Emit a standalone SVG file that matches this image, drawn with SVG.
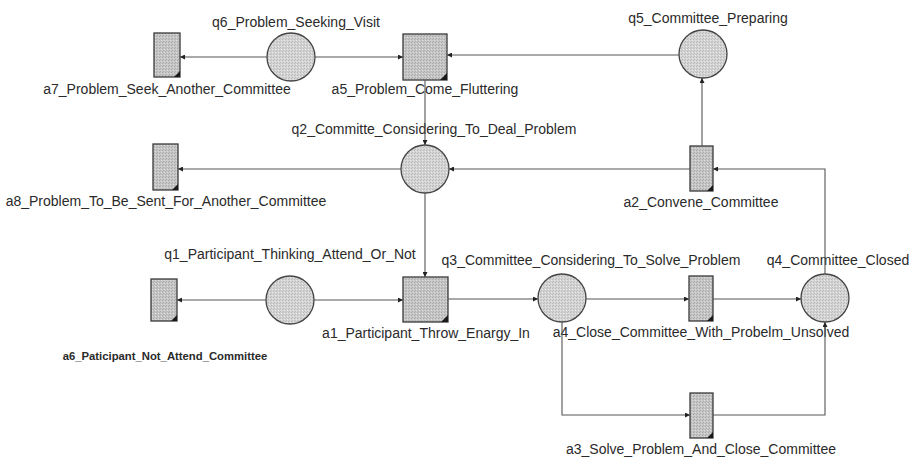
<svg xmlns="http://www.w3.org/2000/svg" width="914" height="457" viewBox="0 0 914 457">
  <defs>
    <!-- fine stipple fill used by places and transitions -->
    <pattern id="dotsLight" width="3" height="3" patternUnits="userSpaceOnUse">
      <rect width="3" height="3" fill="#d4d4d4"/>
      <rect x="0" y="0" width="1" height="1" fill="#b8b8b8"/>
      <rect x="2" y="1" width="1" height="1" fill="#e6e6e6"/>
      <rect x="1" y="2" width="1" height="1" fill="#bcbcbc"/>
    </pattern>
    <pattern id="dotsDark" width="3" height="3" patternUnits="userSpaceOnUse">
      <rect width="3" height="3" fill="#c6c6c6"/>
      <rect x="0" y="0" width="1" height="1" fill="#a8a8a8"/>
      <rect x="2" y="1" width="1" height="1" fill="#dadada"/>
      <rect x="1" y="2" width="1" height="1" fill="#acacac"/>
    </pattern>
    <marker id="arrow" viewBox="0 0 6 6" refX="6" refY="3" markerWidth="5" markerHeight="5" orient="auto" markerUnits="userSpaceOnUse">
      <path d="M0,0 L6,3 L0,6 Z" fill="#222"/>
    </marker>
  </defs>
  <style>
    .place { fill: url(#dotsLight); stroke: #444; stroke-width: 1.3; }
    .trans { fill: url(#dotsDark); stroke: #3a3a3a; stroke-width: 1.3; }
    .corner { fill: #1a1a1a; }
    .lbl { font-family: "Liberation Sans", Arial, sans-serif; font-size: 14px; fill: #2a2a2a; text-anchor: middle; }
    .lbl-small { font-family: "Liberation Sans", Arial, sans-serif; font-size: 11.3px; font-weight: bold; fill: #2a2a2a; text-anchor: middle; }
    .arc { fill: none; stroke: #555; stroke-width: 1.1; marker-end: url(#arrow); }
  </style>

  <rect width="914" height="457" fill="#ffffff"/>

  <!-- places -->
  <g id="q6">
    <circle class="place" cx="291" cy="57" r="24"/>
    <text class="lbl" x="296" y="27">q6_Problem_Seeking_Visit</text>
  </g>
  <g id="q5">
    <circle class="place" cx="703" cy="54" r="24"/>
    <text class="lbl" x="708" y="23">q5_Committee_Preparing</text>
  </g>
  <g id="q2">
    <circle class="place" cx="425" cy="169" r="24"/>
    <text class="lbl" x="434" y="134">q2_Committe_Considering_To_Deal_Problem</text>
  </g>
  <g id="q1">
    <circle class="place" cx="290" cy="300" r="24"/>
    <text class="lbl" x="290" y="259">q1_Participant_Thinking_Attend_Or_Not</text>
  </g>
  <g id="q3">
    <circle class="place" cx="562" cy="298" r="24"/>
    <text class="lbl" x="591" y="265">q3_Committee_Considering_To_Solve_Problem</text>
  </g>
  <g id="q4">
    <circle class="place" cx="825" cy="298" r="24"/>
    <text class="lbl" x="838" y="265">q4_Committee_Closed</text>
  </g>

  <!-- transitions -->
  <g id="a7">
    <rect class="trans" x="154" y="33" width="26" height="44"/>
    <path class="corner" d="M180,71 L180,77 L174,77 Z"/>
    <text class="lbl" x="167" y="94">a7_Problem_Seek_Another_Committee</text>
  </g>
  <g id="a5">
    <rect class="trans" x="403" y="34" width="44" height="46"/>
    <path class="corner" d="M447,73 L447,80 L440,80 Z"/>
    <text class="lbl" x="425" y="94">a5_Problem_Come_Fluttering</text>
  </g>
  <g id="a8">
    <rect class="trans" x="153" y="144" width="25" height="46"/>
    <path class="corner" d="M178,184 L178,190 L172,190 Z"/>
    <text class="lbl" x="166" y="206">a8_Problem_To_Be_Sent_For_Another_Committee</text>
  </g>
  <g id="a2">
    <rect class="trans" x="690" y="146" width="23" height="45"/>
    <path class="corner" d="M713,185 L713,191 L707,191 Z"/>
    <text class="lbl" x="701" y="207">a2_Convene_Committee</text>
  </g>
  <g id="a6">
    <rect class="trans" x="151" y="279" width="26" height="42"/>
    <path class="corner" d="M177,315 L177,321 L171,321 Z"/>
    <text class="lbl-small" x="165" y="360">a6_Paticipant_Not_Attend_Committee</text>
  </g>
  <g id="a1">
    <rect class="trans" x="403" y="277" width="45" height="45"/>
    <path class="corner" d="M448,315 L448,322 L441,322 Z"/>
    <text class="lbl" x="426" y="338">a1_Participant_Throw_Enargy_In</text>
  </g>
  <g id="a4">
    <rect class="trans" x="689" y="276" width="24" height="45"/>
    <path class="corner" d="M713,315 L713,321 L707,321 Z"/>
    <text class="lbl" x="701" y="337">a4_Close_Committee_With_Probelm_Unsolved</text>
  </g>
  <g id="a3">
    <rect class="trans" x="690" y="393" width="23" height="45"/>
    <path class="corner" d="M713,432 L713,438 L707,438 Z"/>
    <text class="lbl" x="701" y="454">a3_Solve_Problem_And_Close_Committee</text>
  </g>

  <!-- arcs -->
  <g id="connectors">
    <path class="arc" d="M267,57 H180"/>
    <path class="arc" d="M315,57 H403"/>
    <path class="arc" d="M679,55 H447"/>
    <path class="arc" d="M425,80 V145"/>
    <path class="arc" d="M702,146 V78"/>
    <path class="arc" d="M690,169 H449"/>
    <path class="arc" d="M825,274 V169 H713"/>
    <path class="arc" d="M401,169 H178"/>
    <path class="arc" d="M425,193 V277"/>
    <path class="arc" d="M266,300 H177"/>
    <path class="arc" d="M314,300 H403"/>
    <path class="arc" d="M448,299 H538"/>
    <path class="arc" d="M586,299 H689"/>
    <path class="arc" d="M713,299 H801"/>
    <path class="arc" d="M562,322 V415 H690"/>
    <path class="arc" d="M713,415 H825 V322"/>
  </g>
</svg>
